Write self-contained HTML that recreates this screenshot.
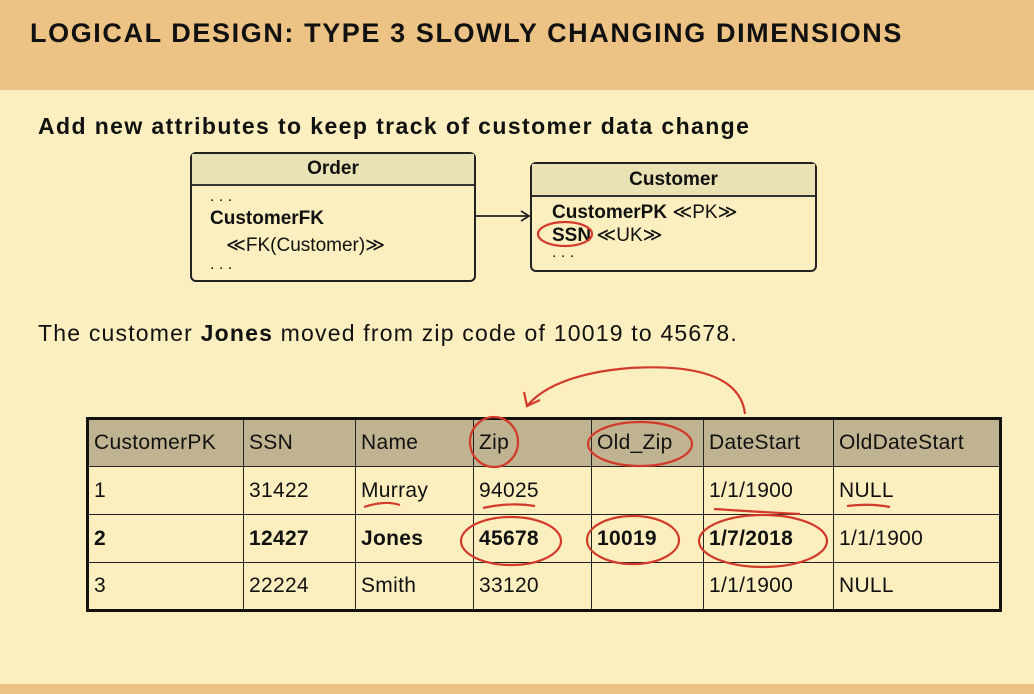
<!DOCTYPE html>
<html><head><meta charset="utf-8"><style>
*{margin:0;padding:0;box-sizing:border-box}
body{width:1034px;height:694px;background:#fbefbf;position:relative;overflow:hidden;font-family:"Liberation Sans",sans-serif;color:#111}
.hdr{position:absolute;left:0;top:0;width:1034px;height:90px;background:#ecc384}
.bot{position:absolute;left:0;top:684px;width:1034px;height:10px;background:#ecc384}
.t{position:absolute;white-space:nowrap}
table{position:absolute;left:86px;top:417px;border-collapse:collapse;border:3px solid #111}
td{border:1.5px solid #222;height:48px;font-size:21px;padding-left:5px;vertical-align:middle;letter-spacing:0.3px}
tr.h td{background:#bfb391}
.box{position:absolute;border:2.5px solid #222;border-radius:6px;background:#fbefbf}
.bh{background:#e9e2b5;border-bottom:2px solid #333;text-align:center;font-weight:bold;font-size:19px}
</style></head><body>
<div class="hdr"></div><div class="bot"></div>
<div class="t" style="left:30px;top:18px;font-size:27px;font-weight:bold;letter-spacing:1.6px">LOGICAL DESIGN: TYPE 3 SLOWLY CHANGING DIMENSIONS</div>
<div class="t" style="left:38px;top:113px;font-size:23px;font-weight:bold;letter-spacing:1.4px">Add new attributes to keep track of customer data change</div>

<div class="box" style="left:190px;top:152px;width:286px;height:130px">
 <div class="bh" style="height:32px;line-height:30px">Order</div>
 <div class="t" style="left:18px;top:34px;font-size:16px">. . .</div>
 <div class="t" style="left:18px;top:54px;font-size:19px;font-weight:bold">CustomerFK</div>
 <div class="t" style="left:34px;top:80px;font-size:19px">≪FK(Customer)≫</div>
 <div class="t" style="left:18px;top:102px;font-size:16px">. . .</div>
</div>
<div class="box" style="left:530px;top:162px;width:287px;height:110px">
 <div class="bh" style="height:33px;line-height:31px">Customer</div>
 <div class="t" style="left:20px;top:37px;font-size:19px"><b>CustomerPK</b> ≪PK≫</div>
 <div class="t" style="left:20px;top:60px;font-size:19px"><b>SSN</b> ≪UK≫</div>
 <div class="t" style="left:20px;top:80px;font-size:16px">. . .</div>
</div>

<div class="t" style="left:38px;top:320px;font-size:23px;letter-spacing:1.2px">The customer <b>Jones</b> moved from zip code of 10019 to 45678.</div>

<table>
<tr class="h"><td style="width:156px">CustomerPK</td><td style="width:112px">SSN</td><td style="width:118px">Name</td><td style="width:118px">Zip</td><td style="width:112px">Old_Zip</td><td style="width:130px">DateStart</td><td style="width:167px">OldDateStart</td></tr>
<tr><td>1</td><td>31422</td><td>Murray</td><td>94025</td><td></td><td>1/1/1900</td><td>NULL</td></tr>
<tr style="font-weight:bold"><td>2</td><td><b>12427</b></td><td><b>Jones</b></td><td><b>45678</b></td><td><b>10019</b></td><td><b>1/7/2018</b></td><td style="font-weight:normal">1/1/1900</td></tr>
<tr><td>3</td><td>22224</td><td>Smith</td><td>33120</td><td></td><td>1/1/1900</td><td>NULL</td></tr>
</table>

<svg style="position:absolute;left:0;top:0" width="1034" height="694">
<line x1="476" y1="216" x2="528" y2="216" stroke="#222" stroke-width="1.8"/>
<path d="M521 211 L529 216 L521 221" fill="none" stroke="#222" stroke-width="1.8"/>
<g fill="none" stroke="#d23a2a" stroke-width="2.2">
<ellipse cx="565" cy="234" rx="27" ry="12"/>
<path d="M745 414 C740 370 680 365 630 368 C580 372 545 385 528 405"/>
<path d="M524 392 L527 406 L540 400"/>
<ellipse cx="494" cy="442" rx="24" ry="25"/>
<ellipse cx="640" cy="444" rx="52" ry="22"/>
<ellipse cx="511" cy="541" rx="50" ry="24"/>
<ellipse cx="633" cy="540" rx="46" ry="24"/>
<ellipse cx="763" cy="541" rx="64" ry="26"/>
<path d="M364 507 Q385 500 400 505"/>
<path d="M483 508 Q510 502 535 506"/>
<path d="M714 509 Q760 512 800 514"/>
<path d="M847 506 Q870 503 890 507"/>
</g></svg>
</body></html>
